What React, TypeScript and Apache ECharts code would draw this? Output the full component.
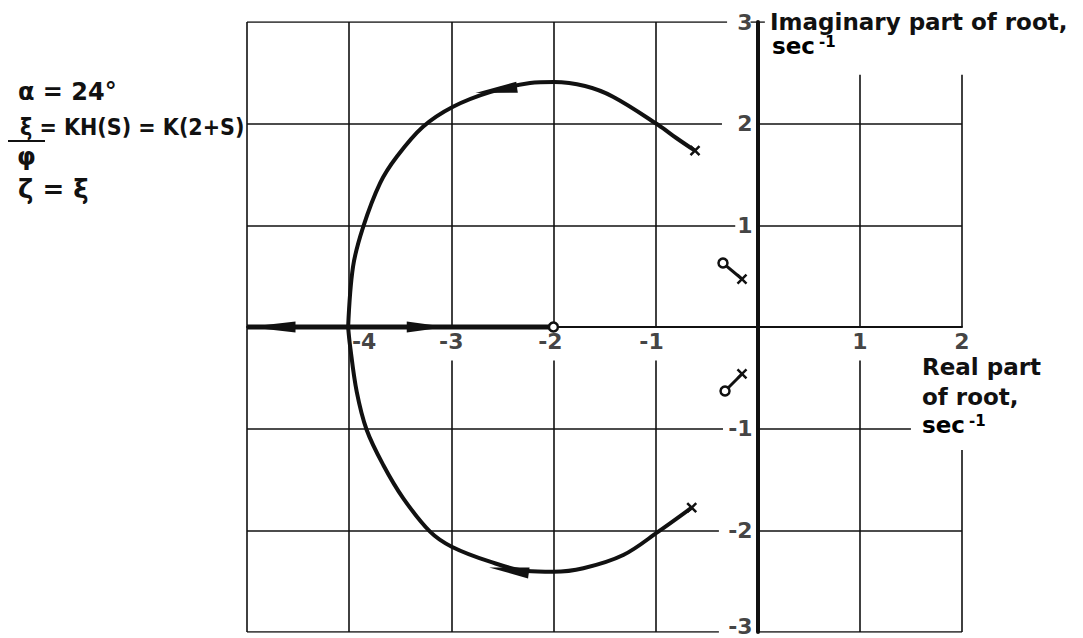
import React, { useEffect, useRef } from 'react';
import * as echarts from 'echarts';

// Axis ranges and labelled ticks (real part, imaginary part; sec^-1)
const realRange: [number, number] = [-5, 2];
const imagRange: [number, number] = [-3, 3];
const realGridValues = [-5, -4, -3, -2, -1, 1, 2];
const imagGridValues = [3, 2, 1, -1, -2, -3];
const realTickLabels = [-4, -3, -2, -1, 1, 2];
const imagTickLabels = [3, 2, 1, -1, -2, -3];

// Upper branch of the root locus: from the complex pole to the real axis
const upperBranch: [number, number][] = [
  [-0.614, 1.734],
  [-0.797, 1.859],
  [-0.973, 1.987],
  [-1.417, 2.265],
  [-1.691, 2.37],
  [-1.994, 2.41],
  [-2.229, 2.4],
  [-2.621, 2.311],
  [-2.983, 2.167],
  [-3.277, 1.97],
  [-3.534, 1.675],
  [-3.697, 1.416],
  [-3.864, 0.981],
  [-3.962, 0.593],
  [-4.01, 0],
];

// Lower branch of the root locus
const lowerBranch: [number, number][] = [
  [-0.646, -1.777],
  [-0.973, -2.013],
  [-1.316, -2.243],
  [-1.707, -2.373],
  [-2.001, -2.407],
  [-2.262, -2.4],
  [-2.621, -2.308],
  [-2.996, -2.161],
  [-3.208, -2.013],
  [-3.47, -1.685],
  [-3.666, -1.357],
  [-3.828, -1.013],
  [-3.926, -0.636],
  [-3.992, -0.177],
  [-4.01, 0],
];

// Locus along the negative real axis
const realAxisBranch: [number, number][] = [
  [-5, 0],
  [-2, 0],
];

// Open-loop poles (x) and zero (o)
const openLoopPoles: [number, number][] = [
  [-0.614, 1.734],
  [-0.646, -1.777],
];
const openLoopZeros: [number, number][] = [[-2, 0]];

// Pole-zero pairs close to the origin
const dipoleZeros: [number, number][] = [
  [-0.34, 0.629],
  [-0.32, -0.629],
];
const dipolePoles: [number, number][] = [
  [-0.154, 0.472],
  [-0.154, -0.462],
];

// Direction arrows on the locus: position and heading (deg, 0 = pointing left)
const arrowPositions: [number, number][] = [
  [-2.56, 2.33],
  [-2.435, -2.392],
  [-4.76, 0],
  [-3.24, 0],
];
const arrowHeadings = [8, -8, 0, 180];

const FONT = '"DejaVu Sans", sans-serif';
const NARROW = '"DejaVu Sans Condensed", "DejaVu Sans", sans-serif';
const INK = '#111';

function gridSegments() {
  const segs: { coords: [number, number][] }[] = [];
  // horizontal rules left of the imaginary axis stop short of the tick labels
  const leftEnd: Record<number, number> = { 3: -0.3, 2: -0.35, 1: -0.22, [-1]: -0.34, [-2]: -0.38, [-3]: -0.38 };
  imagGridValues.forEach((y) => {
    segs.push({ coords: [[realRange[0], y], [leftEnd[y], y]] });
  });
  // horizontal rules right of the imaginary axis
  imagGridValues.forEach((y) => {
    if (y === 3) return;
    const end = y === -1 ? 1.5 : realRange[1];
    segs.push({ coords: [[0, y], [end, y]] });
  });
  // vertical rules, broken under the real-axis labels
  realGridValues.forEach((x) => {
    if (x <= -4) {
      segs.push({ coords: [[x, imagRange[0]], [x, imagRange[1]]] });
    } else if (x < 0) {
      segs.push({ coords: [[x, imagRange[1]], [x, 0]] });
      segs.push({ coords: [[x, -0.33], [x, imagRange[0]]] });
    } else {
      segs.push({ coords: [[x, 2.48], [x, 0]] });
      segs.push({ coords: [[x, x === 2 ? -1.21 : -0.33], [x, imagRange[0]]] });
    }
  });
  // tee at the top of the imaginary axis
  segs.push({ coords: [[-0.07, 3], [0.07, 3]] });
  return segs;
}

export default function App() {
  const ref = useRef<HTMLDivElement>(null);

  useEffect(() => {
    if (!ref.current) return;
    const chart = echarts.init(ref.current, undefined, { renderer: 'svg' });

    const crossSymbol = 'path://M0,0L10,10M10,0L0,10';
    const wedgeSymbol = 'path://M0,5L40,0L40,10Z';
    const arrowSizes: [number, number][] = [[42, 11], [40, 11], [48, 11], [40, 11]];

    const supRich = {
      m: { font: `bold 23px ${FONT}`, color: INK },
      s: { font: `bold 15px ${FONT}`, color: INK, verticalAlign: 'top', padding: [0, 0, 0, 4] },
    };

    const txt = (left: number, top: number, text: string, size = 23, family = FONT, extra: any = {}) => ({
      type: 'text',
      left,
      top,
      style: { text, font: `bold ${size}px ${family}`, fill: INK, ...extra },
    });

    const tickFont = { fontFamily: FONT, fontWeight: 'bold', fontSize: 22, color: INK };
    const realLabelOffset: Record<number, [number, number]> = { [-4]: [15, 0], [-2]: [-3, 0], [-1]: [-4, 0] };
    const imagLabelOffset: Record<number, [number, number]> = { [-3]: [0, -6] };

    chart.setOption({
      animation: false,
      backgroundColor: '#fff',
      grid: { left: 247, right: 121, top: 22, bottom: 6, containLabel: false, outerBoundsMode: 'none' },
      xAxis: {
        type: 'value',
        min: realRange[0],
        max: realRange[1],
        interval: 1,
        axisLine: { onZero: true, lineStyle: { color: INK, width: 2 } },
        axisTick: { show: false },
        splitLine: { show: false },
        axisLabel: { show: false },
      },
      yAxis: {
        type: 'value',
        min: imagRange[0],
        max: imagRange[1],
        interval: 1,
        axisLine: { onZero: true, lineStyle: { color: INK, width: 4 } },
        axisTick: { show: false },
        splitLine: { show: false },
        axisLabel: { show: false },
      },
      graphic: [
        txt(770, 10, 'Imaginary part of root,'),
        {
          type: 'text',
          left: 772,
          top: 34,
          style: { text: '{m|sec}{s|-1}', rich: supRich },
        },
        txt(922, 355, 'Real part'),
        txt(922, 385, 'of root,'),
        {
          type: 'text',
          left: 922,
          top: 413,
          style: { text: '{m|sec}{s|-1}', rich: supRich },
        },
        txt(18, 80, 'α = 24°', 24),
        txt(20, 115, 'ξ = KH(S) = K(2+S)', 23, NARROW),
        {
          type: 'line',
          shape: { x1: 8, y1: 141, x2: 45, y2: 141 },
          style: { stroke: INK, lineWidth: 2 },
        },
        txt(17, 145, 'φ', 24),
        txt(18, 176, 'ζ = ξ', 26),
      ],
      series: [
        {
          type: 'lines',
          coordinateSystem: 'cartesian2d',
          polyline: false,
          silent: true,
          lineStyle: { color: INK, width: 1.6, opacity: 1 },
          data: gridSegments(),
          z: 1,
        },
        {
          // real-axis tick labels, placed below the axis
          type: 'scatter',
          silent: true,
          symbol: 'circle',
          symbolSize: 0.1,
          itemStyle: { color: 'transparent' },
          data: realTickLabels.map((v) => ({
            value: [v, 0],
            label: realLabelOffset[v] ? { offset: realLabelOffset[v] } : {},
          })),
          label: {
            show: true,
            position: 'bottom',
            distance: 3,
            formatter: (p: any) => String(p.value[0]),
            ...tickFont,
          },
          z: 6,
        },
        {
          // imaginary-axis tick labels, placed left of the axis
          type: 'scatter',
          silent: true,
          symbol: 'circle',
          symbolSize: 0.1,
          itemStyle: { color: 'transparent' },
          data: imagTickLabels.map((v) => ({
            value: [0, v],
            label: imagLabelOffset[v] ? { offset: imagLabelOffset[v] } : {},
          })),
          label: {
            show: true,
            position: 'left',
            distance: 5,
            formatter: (p: any) => String(p.value[1]),
            ...tickFont,
          },
          z: 6,
        },
        {
          type: 'line',
          data: realAxisBranch,
          showSymbol: false,
          lineStyle: { color: INK, width: 5 },
          z: 3,
        },
        {
          type: 'line',
          data: upperBranch,
          smooth: 0.35,
          showSymbol: false,
          lineStyle: { color: INK, width: 4 },
          z: 3,
        },
        {
          type: 'line',
          data: lowerBranch,
          smooth: 0.35,
          showSymbol: false,
          lineStyle: { color: INK, width: 4 },
          z: 3,
        },
        {
          type: 'scatter',
          symbol: wedgeSymbol,
          symbolKeepAspect: false,
          itemStyle: { color: INK, opacity: 1 },
          data: arrowPositions.map((p, i) => ({
            value: p,
            symbolRotate: arrowHeadings[i],
            symbolSize: arrowSizes[i],
          })),
          z: 4,
        },
        {
          type: 'lines',
          coordinateSystem: 'cartesian2d',
          polyline: false,
          silent: true,
          lineStyle: { color: INK, width: 3, opacity: 1 },
          data: dipoleZeros.map((z, i) => ({ coords: [z, dipolePoles[i]] })),
          z: 4,
        },
        {
          type: 'scatter',
          symbol: crossSymbol,
          symbolSize: 9,
          itemStyle: { color: 'transparent', borderColor: INK, borderWidth: 2.5, opacity: 1 },
          data: [...openLoopPoles, ...dipolePoles],
          z: 5,
        },
        {
          type: 'scatter',
          symbol: 'circle',
          symbolSize: 9,
          itemStyle: { color: '#fff', borderColor: INK, borderWidth: 2.5, opacity: 1 },
          data: [...openLoopZeros, ...dipoleZeros],
          z: 5,
        },
      ],
    });

    return () => chart.dispose();
  }, []);

  return (
    <div
      ref={ref}
      style={{ position: 'fixed', left: 0, top: 0, width: 1083, height: 638, background: '#fff' }}
    />
  );
}
